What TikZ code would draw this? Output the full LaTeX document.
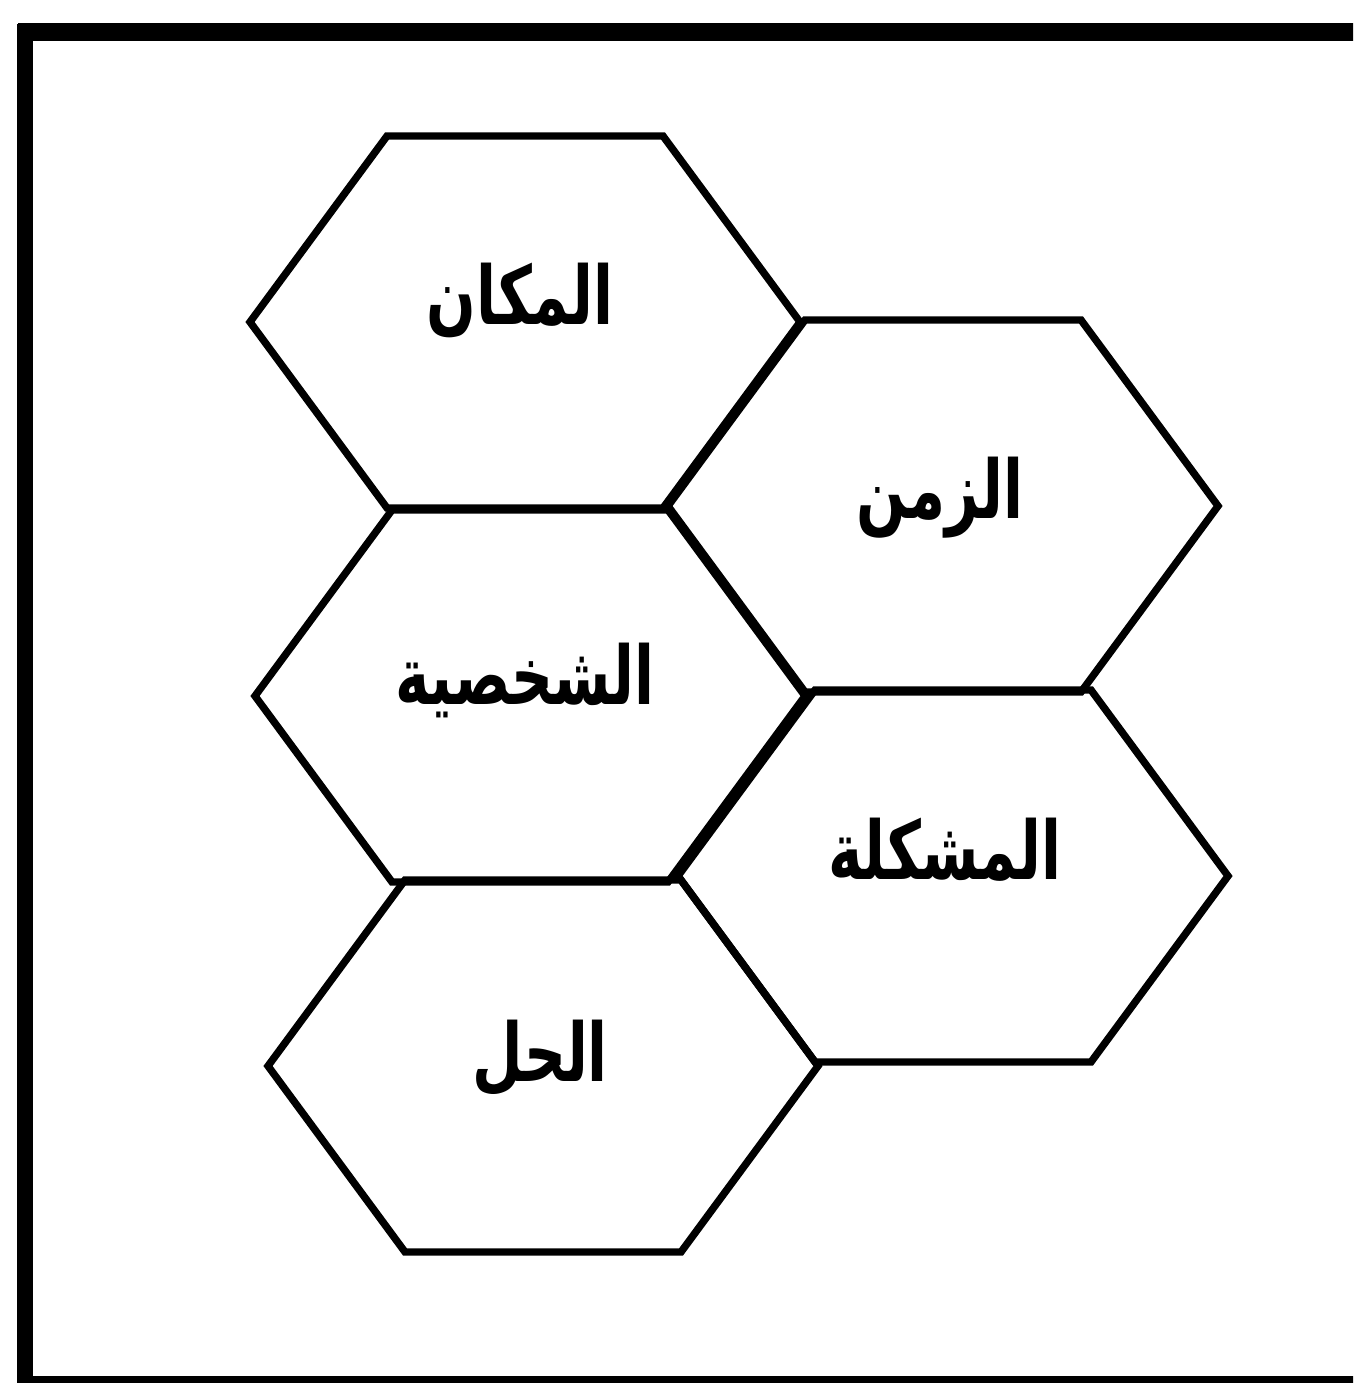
\documentclass[tikz,border=0pt]{standalone}
\usepackage{fontspec}
\newfontfamily\arabicfont[Script=Arabic,FakeStretch=0.72]{DejaVu Sans}
\TeXXeTstate=1
\tikzset{
  hexcell/.style={draw=black, line width=2.1pt, line join=miter},
  cellname/.style={font=\arabicfont\bfseries\fontsize{23}{27}\selectfont, inner sep=0pt},
}
\begin{document}
\begin{tikzpicture}[x=0.01cm,y=-0.01cm]
\useasboundingbox (0,0) rectangle (1353,1383);
\clip (0,0) rectangle (1353,1383);
% frame, open on the right
\draw[line width=4.3pt] (25,1390) -- (25,24);
\draw[line width=5.1pt] (18,32) -- (1360,32);
\draw[line width=2pt] (25,1379) -- (1360,1379);
% centres of the cells
\coordinate (c1) at (525,322);
\coordinate (c2) at (943,506);
\coordinate (c3) at (530,696);
\coordinate (c4) at (953,876);
\coordinate (c5) at (543,1066);
\foreach \c in {c1,c2,c3,c4,c5}
  \draw[hexcell] (\c) ++(-275,0) -- ++(137,-186) -- ++(276,0) -- ++(137,186)
    -- ++(-137,186) -- ++(-276,0) -- cycle;
% names
\node[cellname] (place) at (520,300) {\beginR المكان\endR};
\node[cellname] (time) at (940,498) {\beginR الزمن\endR};
\node[cellname] (character) at (525,680) {\beginR الشخصية\endR};
\node[cellname] (problem) at (945,850) {\beginR المشكلة\endR};
\node[cellname] (solution) at (540,1058) {\beginR الحل\endR};
\end{tikzpicture}
\end{document}
